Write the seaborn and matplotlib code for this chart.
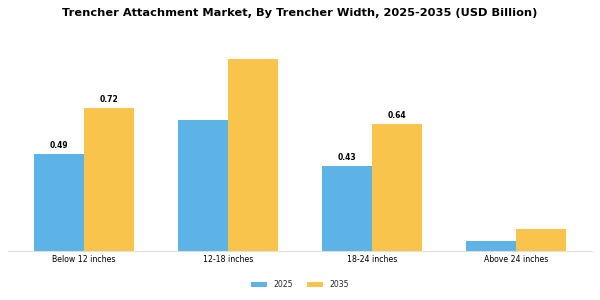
import pandas as pd
import seaborn as sns
import matplotlib.pyplot as plt

widths = ["Below 12 inches", "12-18 inches", "18-24 inches", "Above 24 inches"]
values_2025 = [0.49, 0.66, 0.43, 0.05]
values_2035 = [0.72, 0.97, 0.64, 0.11]
labels_2025 = ["0.49", "", "0.43", ""]
labels_2035 = ["0.72", "", "0.64", ""]

df = pd.DataFrame({
    "width": widths * 2,
    "value": values_2025 + values_2035,
    "year": ["2025"] * 4 + ["2035"] * 4,
})

sns.set_style("white")
fig, ax = plt.subplots(figsize=(6, 3), dpi=100)
sns.barplot(data=df, x="width", y="value", hue="year",
            palette=["#5DB3E6", "#F9C44B"], width=0.7, saturation=1,
            linewidth=0, ax=ax)

for cont, labs in zip(ax.containers, [labels_2025, labels_2035]):
    ax.bar_label(cont, labels=labs, padding=3, fontsize=5.5,
                 fontweight="bold", color="black")

ax.set_xlim(-0.53, 3.53)
ax.set_ylim(0, 1.1)
ax.set_xlabel("")
ax.set_ylabel("")
ax.set_yticks([])
ax.tick_params(axis="x", labelsize=5.6, labelcolor="black", length=0, pad=3)
for s in ["top", "right", "left"]:
    ax.spines[s].set_visible(False)
ax.spines["bottom"].set_color("#dddddd")

ax.set_title("Trencher Attachment Market, By Trencher Width, 2025-2035 (USD Billion)",
             fontsize=8.2, fontweight="bold", color="black", pad=12.5)
ax.legend(loc="upper center", bbox_to_anchor=(0.5, -0.1), ncol=2, frameon=False,
          fontsize=5.6, handlelength=2.05, handleheight=0.6, columnspacing=1.9)

plt.subplots_adjust(left=0.013, right=0.987, top=0.89, bottom=0.163)
plt.savefig("out.png")
